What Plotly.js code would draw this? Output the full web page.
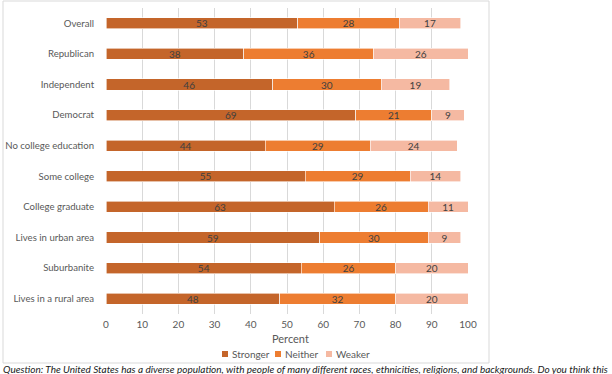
<!DOCTYPE html>
<html>
<head>
<meta charset="utf-8">
<script src="https://cdn.plot.ly/plotly-3.0.1.min.js"></script>
<style>html,body{margin:0;padding:0;background:#fff;}#chart{width:612px;height:374px;}</style>
</head>
<body>
<div id="chart"></div>
<script>
const categories = ["Overall","Republican","Independent","Democrat","No college education","Some college","College graduate","Lives in urban area","Suburbanite","Lives in a rural area"];
const stronger = [53,38,46,69,44,55,63,59,54,48];
const neither  = [28,36,30,21,29,29,26,30,26,32];
const weaker   = [17,26,19,9,24,14,11,9,20,20];
const seriesNames = ["Stronger","Neither","Weaker"];
const xTicks = [0,10,20,30,40,50,60,70,80,90,100];
const caption = "Question: The United States has a diverse population, with people of many different races, ethnicities, religions, and backgrounds. Do you think this";

const colors = ["#C4652A","#ED7D31","#F5B9A2"];
const font = "Lato, 'Open Sans', sans-serif";
const W = 362, H = 306, L = 106, T = 8;
const px = x => (x - L) / W;          // pixel x -> paper x
const py = y => (T + H - y) / H;      // pixel y -> paper y

const data = [stronger, neither, weaker].map((vals,i)=>({
  type:"bar", orientation:"h", name:seriesNames[i],
  y:categories, x:vals, text:vals.map(String),
  textposition:"inside", insidetextanchor:"middle", textangle:0,
  textfont:{family:font,size:10,color:"#404040"},
  marker:{color:colors[i], line:{color:"#ffffff",width:0.6}},
  width:0.36, hoverinfo:"none", showlegend:false
}));

// manual legend (compact, like the reference)
const legendX = [222, 275, 326];
const shapes = [
  {type:"rect", xref:"paper", yref:"paper", x0:px(3), x1:px(489), y0:py(363), y1:py(1),
   line:{color:"#D9D9D9",width:1}, fillcolor:"rgba(0,0,0,0)", layer:"below"}
];
const annotations = [
  {text:"Percent", xref:"x", x:50, yref:"paper", y:py(338), yanchor:"middle", showarrow:false,
   font:{size:11,color:"#595959"}, xanchor:"left", xshift:-17},
  {text:"<i>"+caption+"</i>", xref:"paper", x:px(1), xanchor:"left", yref:"paper", y:py(369), yanchor:"middle",
   showarrow:false, font:{size:10,color:"#1a1a1a"}}
];
seriesNames.forEach((n,i)=>{
  shapes.push({type:"rect", xref:"paper", yref:"paper", x0:px(legendX[i]), x1:px(legendX[i]+6),
    y0:py(357), y1:py(351), line:{width:0}, fillcolor:colors[i]});
  annotations.push({text:n, xref:"paper", x:px(legendX[i]+8), xanchor:"left", yref:"paper", y:py(354),
    yanchor:"middle", showarrow:false, font:{size:10,color:"#595959"}});
});

const layout = {
  width:612, height:374,
  margin:{l:L,r:612-L-W,t:T,b:374-T-H},
  barmode:"stack",
  paper_bgcolor:"#fff", plot_bgcolor:"#fff",
  font:{family:font,size:10,color:"#595959"},
  uniformtext:{mode:"show", minsize:10},
  xaxis:{range:[0,100], tickvals:xTicks, showgrid:true, gridcolor:"#D9D9D9", gridwidth:1,
         zeroline:false, showline:false, ticks:"outside", ticklen:1, tickcolor:"rgba(0,0,0,0)",
         tickfont:{size:10,color:"#595959"}, fixedrange:true},
  yaxis:{type:"category", autorange:"reversed", showgrid:false, zeroline:false, showline:false,
         ticks:"outside", ticklen:9, tickcolor:"rgba(0,0,0,0)", tickfont:{size:9.6,color:"#595959"}, automargin:false},
  showlegend:false,
  annotations:annotations,
  shapes:shapes
};
Plotly.newPlot("chart", data, layout, {staticPlot:true, displayModeBar:false});
</script>
</body>
</html>
